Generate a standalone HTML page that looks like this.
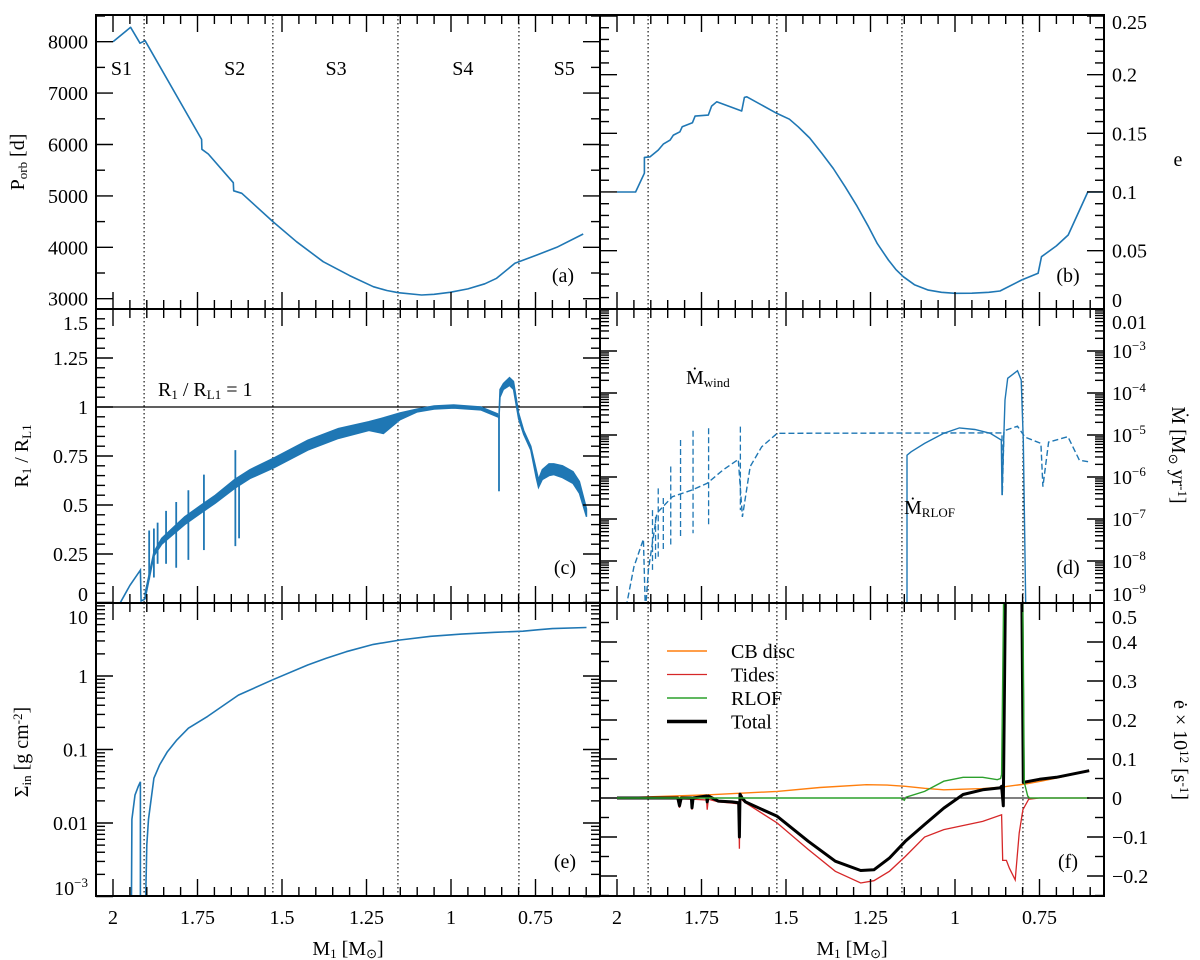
<!DOCTYPE html>
<html><head><meta charset="utf-8"><title>Binary evolution panels</title>
<style>
html,body{margin:0;padding:0;background:#fff;}
svg{display:block;font-family:"Liberation Serif",serif;}
</style></head>
<body>
<svg id="fig" width="1200" height="960" viewBox="0 0 1200 960" xmlns="http://www.w3.org/2000/svg"></svg>
<script>
// ---------- data ----------
const stageBounds = [1.908, 1.527, 1.157, 0.799];
const stageNames = ["S1","S2","S3","S4","S5"];
const stageLabelMass = [1.975, 1.64, 1.34, 0.965, 0.665];

// (a) orbital period
const massA = [2.0,1.948,1.92,1.905,1.738,1.737,1.718,1.644,1.643,1.619,1.527,1.457,1.378,1.30,1.23,1.19,1.156,1.087,1.05,1.003,0.95,0.90,0.865,0.811,0.746,0.687,0.609];
const periodA = [8000,8280,7970,8020,6100,5906,5815,5257,5100,5050,4500,4109,3720,3450,3233,3160,3117,3072,3085,3124,3190,3290,3397,3689,3850,4000,4259];

// (b) eccentricity
const massB = [2.0,1.945,1.919,1.919,1.902,1.878,1.863,1.843,1.833,1.814,1.807,1.777,1.769,1.73,1.72,1.705,1.631,1.623,1.616,1.527,1.49,1.464,1.43,1.394,1.36,1.325,1.29,1.256,1.23,1.197,1.175,1.153,1.12,1.079,1.04,1.0,0.95,0.90,0.867,0.803,0.754,0.744,0.70,0.665,0.607,0.56];
const eccB = [0.1,0.1,0.116,0.1295,0.130,0.1357,0.1408,0.1442,0.1485,0.1513,0.1556,0.159,0.1647,0.1655,0.1732,0.1769,0.169,0.1806,0.1811,0.167,0.162,0.1556,0.146,0.133,0.120,0.1045,0.088,0.0704,0.056,0.042,0.034,0.0278,0.021,0.0164,0.0145,0.0136,0.0137,0.0145,0.0156,0.025,0.0307,0.0448,0.054,0.0633,0.1,0.1];

// (c) R1/RL1
const massC0 = [1.979,1.95,1.919,1.917,1.905];
const ratioC0 = [0.0,0.09,0.168,0.01,0.02];
const massC1 = [1.905,1.879,1.856,1.822,1.788,1.743,1.697,1.64,1.595,1.524,1.424,1.333,1.243,1.20,1.151,1.10,1.05,0.992,0.912,0.862];
const ratioC1Upper = [0.05,0.26,0.33,0.385,0.44,0.495,0.55,0.63,0.68,0.74,0.83,0.89,0.925,0.945,0.97,0.99,1.005,1.01,1.0,0.965];
const ratioC1Lower = [0.02,0.24,0.30,0.35,0.40,0.455,0.51,0.585,0.635,0.69,0.78,0.84,0.88,0.865,0.935,0.975,0.99,0.995,0.985,0.95];
const massC2 = [0.858,0.855,0.845,0.827,0.815,0.80,0.785,0.764,0.748,0.741,0.73,0.71,0.696,0.67,0.639,0.62,0.599];
const ratioC2Upper = [0.96,1.09,1.12,1.15,1.13,0.97,0.88,0.80,0.68,0.63,0.68,0.71,0.71,0.70,0.67,0.62,0.48];
const ratioC2Lower = [0.94,1.05,1.09,1.11,1.09,0.94,0.86,0.78,0.64,0.59,0.63,0.65,0.655,0.64,0.61,0.56,0.44];
const spikeMassC = [1.893,1.879,1.868,1.843,1.813,1.777,1.731,1.638,1.627,0.858];
const spikeTopC = [0.37,0.38,0.41,0.47,0.515,0.575,0.655,0.78,0.62,0.96];
const spikeBottomC = [0.12,0.13,0.2,0.2,0.18,0.22,0.27,0.29,0.33,0.57];

// (d) mass-loss rates, log10 [Msun/yr]
const massWind = [1.973,1.95,1.922,1.916,1.907,1.882,1.836,1.778,1.733,1.686,1.641,1.629,1.606,1.572,1.526,0.861,0.860,0.855,0.815,0.793,0.746,0.74,0.723,0.666,0.632,0.603];
const windLog10 = [-9.1,-8.14,-7.48,-9.2,-8.21,-6.86,-6.47,-6.31,-6.15,-5.83,-5.58,-6.95,-5.75,-5.28,-4.96,-4.95,-6.43,-4.9,-4.79,-5.05,-5.2,-6.23,-5.17,-5.04,-5.6,-5.64];
const spikeMassWind = [1.895,1.886,1.878,1.863,1.841,1.812,1.775,1.729,1.635];
const spikeTopWind = [-6.79,-6.95,-6.27,-6.5,-5.75,-5.12,-4.9,-4.84,-4.8];
const spikeBottomWind = [-8.21,-7.98,-7.9,-7.74,-7.63,-7.46,-7.34,-7.14,-6.79];
const massRlof = [1.142,1.142,1.130,1.090,1.033,0.987,0.941,0.896,0.863,0.861,0.856,0.852,0.844,0.815,0.804,0.798,0.790];
const rlofLog10 = [-9.5,-5.48,-5.40,-5.2,-4.96,-4.83,-4.87,-4.96,-5.12,-6.43,-5.12,-4.17,-3.65,-3.47,-3.69,-5.12,-9.5];

// (e) Sigma_in, log10 [g cm^-2]
const massE0 = [1.9455,1.944,1.935,1.925,1.919,1.919];
const sigmaLog0 = [-3.2,-1.95,-1.62,-1.50,-1.44,-3.2];
const massE1 = [1.904,1.9,1.895,1.888,1.879,1.862,1.839,1.811,1.777,1.72,1.629,1.527,1.424,1.37,1.31,1.23,1.151,1.06,0.969,0.87,0.787,0.74,0.70,0.599];
const sigmaLog1 = [-3.2,-2.3,-1.95,-1.7,-1.39,-1.21,-1.03,-0.87,-0.71,-0.55,-0.26,-0.05,0.15,0.24,0.33,0.43,0.49,0.54,0.57,0.595,0.61,0.63,0.645,0.66];

// (f) de/dt x 1e12
const massCB = [2.0,1.721,1.526,1.40,1.262,1.20,1.147,1.09,1.033,0.918,0.861,0.792,0.746,0.689,0.603];
const edotCB = [0,0.0085,0.017,0.027,0.034,0.033,0.03,0.025,0.021,0.024,0.028,0.036,0.043,0.053,0.07];
const massTides = [2.0,1.82,1.815,1.81,1.78,1.778,1.775,1.735,1.733,1.73,1.70,1.66,1.64,1.638,1.636,1.63,1.62,1.526,1.434,1.354,1.279,1.24,1.194,1.147,1.09,1.033,0.918,0.862,0.859,0.848,0.839,0.822,0.81,0.799,0.782,0.75,0.603];
const edotTides = [0,-0.002,-0.025,-0.002,-0.003,-0.03,-0.003,-0.005,-0.03,-0.003,-0.01,-0.013,-0.015,-0.13,0.01,-0.005,-0.012,-0.064,-0.132,-0.188,-0.218,-0.212,-0.188,-0.15,-0.10,-0.081,-0.06,-0.043,-0.16,-0.16,-0.18,-0.21,-0.09,-0.03,-0.003,0,0];
const massRL = [2.0,1.16,1.150,1.145,1.09,1.033,0.976,0.918,0.875,0.865,0.862,0.855,0.80,0.795,0.785,0.78,0.603];
const edotRL = [0,0,-0.006,0.002,0.017,0.043,0.053,0.053,0.047,0.05,0.06,0.6,0.6,0.04,0.005,0,0];
const massTot = [2.0,1.82,1.815,1.81,1.78,1.778,1.775,1.735,1.733,1.73,1.70,1.66,1.64,1.638,1.636,1.63,1.62,1.526,1.434,1.354,1.279,1.24,1.194,1.147,1.09,1.033,0.976,0.918,0.867,0.862,0.857,0.850,0.803,0.798,0.75,0.70,0.603];
const edotTot = [0,0,-0.02,0,0,-0.025,0,0.005,-0.01,0.005,-0.008,-0.01,-0.012,-0.1,0.01,0,-0.01,-0.047,-0.111,-0.162,-0.186,-0.184,-0.154,-0.111,-0.068,-0.026,0.009,0.021,0.026,0.03,-0.02,0.6,0.6,0.04,0.048,0.053,0.07];

// ---------- helpers ----------
const NS = "http://www.w3.org/2000/svg";
const svg = document.getElementById("fig");
const BLUE = "#1f77b4";
function mk(tag, attrs, parent, name) {
  const n = document.createElementNS(NS, tag);
  for (const k in attrs) n.setAttribute(k, attrs[k]);
  
  
  (parent || svg).appendChild(n);
  return n;
}
const panels = {
  a:{x0:96,x1:600,y0:15,y1:309,col:0},
  b:{x0:600,x1:1104,y0:15,y1:309,col:1},
  c:{x0:96,x1:600,y0:309,y1:603,col:0},
  d:{x0:600,x1:1104,y0:309,y1:603,col:1},
  e:{x0:96,x1:600,y0:603,y1:896,col:0},
  f:{x0:600,x1:1104,y0:603,y1:896,col:1}
};
function xm(M, col) { return (col ? 617 : 113) + (2 - M) * 338; }
const yScale = {
  a: v => 298.7 - (v - 3000) * 0.0514,
  b: v => 309.3 - v * 1173.2,
  c: v => 603 - v * 196,
  d: v => 309 + (-2 - v) * 42,
  e: v => 676 - v * 73.5,
  f: v => 798 - v * 390
};
function pathD(ms, vs, col, ys) {
  return ms.map((m, i) => (i ? "L" : "M") + xm(m, col).toFixed(1) + " " + ys(vs[i]).toFixed(1)).join(" ");
}
const defs = mk("defs", {}, svg, "defs");
for (const k in panels) {
  const p = panels[k];
  const cp = mk("clipPath", {id: "clip-" + k}, defs, "clip-" + k);
  mk("rect", {x: p.x0, y: p.y0, width: p.x1 - p.x0, height: p.y1 - p.y0}, cp, "clip-rect-" + k);
}
function gPanel(k) { return mk("g", {"clip-path": "url(#clip-" + k + ")"}, svg, "panel-" + k + "-plot-area"); }

// ---------- stage lines ----------
for (const k in panels) {
  const p = panels[k];
  const g = gPanel(k);
  stageBounds.forEach((m, i) => {
    mk("line", {x1: xm(m, p.col), x2: xm(m, p.col), y1: p.y0, y2: p.y1, stroke: "#000", "stroke-width": 1.1, "stroke-dasharray": "1.5,2.5"}, g, "stage-boundary-" + (i + 1));
  });
}

// ---------- series ----------
let g;
g = gPanel("a");
mk("path", {d: pathD(massA, periodA, 0, yScale.a), fill: "none", stroke: BLUE, "stroke-width": 1.6, "stroke-linejoin": "round"}, g, "period-line");
g = gPanel("b");
mk("path", {d: pathD(massB, eccB, 1, yScale.b), fill: "none", stroke: BLUE, "stroke-width": 1.6, "stroke-linejoin": "round"}, g, "eccentricity-line");

g = gPanel("c");
mk("line", {x1: 96, x2: 600, y1: yScale.c(1), y2: yScale.c(1), stroke: "#000", "stroke-width": 1.3}, g, "roche-limit-line");
mk("path", {d: pathD(massC0, ratioC0, 0, yScale.c), fill: "none", stroke: BLUE, "stroke-width": 1.6}, g, "radius-ratio-early");
function band(ms, up, lo, name) {
  const d = pathD(ms, up, 0, yScale.c) + " " + ms.slice().reverse().map((m, i) => "L" + xm(m, 0).toFixed(1) + " " + yScale.c(lo[lo.length - 1 - i]).toFixed(1)).join(" ") + " Z";
  mk("path", {d: d, fill: BLUE, stroke: BLUE, "stroke-width": 1.4}, g, name);
}
band(massC1, ratioC1Upper, ratioC1Lower, "radius-ratio-band-1");
band(massC2, ratioC2Upper, ratioC2Lower, "radius-ratio-band-2");
spikeMassC.forEach((m, i) => {
  mk("line", {x1: xm(m, 0), x2: xm(m, 0), y1: yScale.c(spikeTopC[i]), y2: yScale.c(spikeBottomC[i]), stroke: BLUE, "stroke-width": 1.8}, g, "radius-ratio-spike");
});

g = gPanel("d");
mk("path", {d: pathD(massWind, windLog10, 1, yScale.d), fill: "none", stroke: BLUE, "stroke-width": 1.4, "stroke-dasharray": "6,3"}, g, "wind-mass-loss-line");
spikeMassWind.forEach((m, i) => {
  mk("line", {x1: xm(m, 1), x2: xm(m, 1), y1: yScale.d(spikeTopWind[i]), y2: yScale.d(spikeBottomWind[i]), stroke: BLUE, "stroke-width": 1.3, "stroke-dasharray": "6,3"}, g, "wind-spike");
});
mk("path", {d: pathD(massRlof, rlofLog10, 1, yScale.d), fill: "none", stroke: BLUE, "stroke-width": 1.4}, g, "rlof-mass-loss-line");

g = gPanel("e");
mk("path", {d: pathD(massE0, sigmaLog0, 0, yScale.e), fill: "none", stroke: BLUE, "stroke-width": 1.6}, g, "sigma-line-early");
mk("path", {d: pathD(massE1, sigmaLog1, 0, yScale.e), fill: "none", stroke: BLUE, "stroke-width": 1.6, "stroke-linejoin": "round"}, g, "sigma-line");

g = gPanel("f");
mk("line", {x1: 600, x2: 1104, y1: yScale.f(0), y2: yScale.f(0), stroke: "#000", "stroke-width": 1}, g, "zero-line");
mk("path", {d: pathD(massCB, edotCB, 1, yScale.f), fill: "none", stroke: "#ff7f0e", "stroke-width": 1.4}, g, "cb-disc-line");
mk("path", {d: pathD(massTides, edotTides, 1, yScale.f), fill: "none", stroke: "#d62728", "stroke-width": 1.3}, g, "tides-line");
mk("path", {d: pathD(massTot, edotTot, 1, yScale.f), fill: "none", stroke: "#000", "stroke-width": 3, "stroke-linejoin": "round"}, g, "total-line");
mk("path", {d: pathD(massRL, edotRL, 1, yScale.f), fill: "none", stroke: "#2ca02c", "stroke-width": 1.4}, g, "rlof-edot-line");

// ---------- axes, ticks ----------
function tickLine(x1, y1, x2, y2, w, name) { mk("line", {x1, y1, x2, y2, stroke: "#000", "stroke-width": w}, svg, name); }
function label(x, y, txt, anchor, sup, name) {
  const t = mk("text", {x: x, y: y, "font-size": 20, "text-anchor": anchor, fill: "#000"}, svg, name);
  t.appendChild(document.createTextNode(txt));
  if (sup) {
    const s = mk("tspan", {dy: -8, "font-size": 13}, t, name + "-exponent");
    s.textContent = sup;
  }
  return t;
}
const yTicks = {
  a: {vals: []}, b: {vals: []}, c: {vals: []},
  d: {vals: []}, e: {vals: []}, f: {vals: []}
};
for (let v = 2500; v <= 8500; v += 500) yTicks.a.vals.push([v, v % 1000 === 0, v % 1000 === 0 ? String(v) : null]);
for (let i = 0; i <= 25; i++) { const v = i / 100; yTicks.b.vals.push([v, i % 5 === 0, i % 5 === 0 ? String(+v.toFixed(2)) : null]); }
for (let i = 0; i <= 30; i++) { const v = i * 0.05; yTicks.c.vals.push([v, i % 5 === 0, i % 5 === 0 ? String(+v.toFixed(2)) : null]); }
for (let d = -9; d <= -2; d++) {
  yTicks.d.vals.push([d, true, d === -2 ? "0.01" : ["10", "\u2212" + (-d)]]);
  if (d < -2) for (let k = 2; k <= 9; k++) yTicks.d.vals.push([d + Math.log10(k), false, null]);
}
for (let d = -3; d <= 1; d++) {
  yTicks.e.vals.push([d, true, d === -3 ? ["10", "\u22123"] : String(+(Math.pow(10, d)).toFixed(3))]);
  if (d < 1) for (let k = 2; k <= 9; k++) yTicks.e.vals.push([d + Math.log10(k), false, null]);
}
for (let i = -5; i <= 10; i++) { const v = i * 0.05; yTicks.f.vals.push([v, i % 2 === 0, i % 2 === 0 ? (v < 0 ? "\u2212" : "") + String(+Math.abs(v).toFixed(2)) : null]); }

const labelClamp = {a:[30,300], b:[22,300], c:[323,594], d:[322,594], e:[617,888], f:[617,888]};
for (const k in panels) {
  const p = panels[k], ys = yScale[k];
  yTicks[k].vals.forEach(([v, major, lab]) => {
    const y = ys(v);
    if (y < p.y0 - 0.5 || y > p.y1 + 0.5) return;
    const L = major ? 17 : 9;
    tickLine(p.x0, y, p.x0 + L, y, 1.4, "y-tick-" + k);
    tickLine(p.x1, y, p.x1 - L, y, 1.4, "y-tick-" + k);
    if (lab) {
      const ly = Math.min(Math.max(y, labelClamp[k][0]), labelClamp[k][1]) + 7;
      const sup = Array.isArray(lab) ? lab[1] : null;
      const txt = Array.isArray(lab) ? lab[0] : lab;
      if (p.col === 0) label(p.x0 - 8, ly, txt, "end", sup, "y-tick-label-" + k);
      else label(p.x1 + 8, ly, txt, "start", sup, "y-tick-label-" + k);
    }
  });
  for (let i = -1; i <= 29; i++) {
    const m = 2 - i * 0.05;
    const x = xm(m, p.col);
    if (x < p.x0 || x > p.x1) continue;
    const major = i >= 0 && i % 5 === 0;
    const L = major ? 17 : 9;
    tickLine(x, p.y0, x, p.y0 + L, 1.4, "x-tick-" + k);
    tickLine(x, p.y1, x, p.y1 - L, 1.4, "x-tick-" + k);
    if (major && (k === "e" || k === "f")) label(x, 924, String(+m.toFixed(2)), "middle", null, "x-tick-label-" + k);
  }
  mk("rect", {x: p.x0, y: p.y0, width: p.x1 - p.x0, height: p.y1 - p.y0, fill: "none", stroke: "#000", "stroke-width": 2}, svg, "panel-" + k + "-frame");
}

// ---------- text annotations ----------
stageNames.forEach((s, i) => { label(xm(stageLabelMass[i], 0), 75, s, "middle", null, "stage-label-" + s.toLowerCase()); });
[["a",563,282],["b",1068,282],["c",565,574],["d",1068,574],["e",565,868],["f",1068,868]].forEach(([k, x, y]) => {
  label(x, y, "(" + k + ")", "middle", null, "panel-letter-" + k);
});

function richText(x, y, parts, attrs, name) {
  const t = mk("text", Object.assign({x: x, y: y, "font-size": 20, fill: "#000"}, attrs || {}), svg, name);
  parts.forEach(([s, kind]) => {
    const a = {};
    if (kind === "sub") { a["baseline-shift"] = "-25%"; a["font-size"] = 13; }
    if (kind === "sup") { a["baseline-shift"] = "45%"; a["font-size"] = 13; }
    const ts = mk("tspan", a, t, name + "-part");
    ts.textContent = s;
  });
  return t;
}
richText(348, 955, [["M",""],["1","sub"],[" [M",""],["\u2299","sub"],["]",""]], {"text-anchor": "middle"}, "x-axis-title-left");
richText(852, 955, [["M",""],["1","sub"],[" [M",""],["\u2299","sub"],["]",""]], {"text-anchor": "middle"}, "x-axis-title-right");
richText(0, 0, [["P",""],["orb","sub"],[" [d]",""]], {"text-anchor": "middle", transform: "translate(24,162) rotate(-90)"}, "y-axis-title-period");
richText(0, 0, [["R",""],["1","sub"],[" / R",""],["L1","sub"]], {"text-anchor": "middle", transform: "translate(28,456) rotate(-90)"}, "y-axis-title-radius-ratio");
richText(0, 0, [["\u03A3",""],["in","sub"],[" [g cm",""],["-2","sup"],["]",""]], {"text-anchor": "middle", transform: "translate(28,752) rotate(-90)"}, "y-axis-title-sigma");
richText(1178, 166, [["e",""]], {"text-anchor": "middle"}, "y-axis-title-eccentricity");
richText(0, 0, [["\u1E40 [M",""],["\u2299","sub"],[" yr",""],["-1","sup"],["]",""]], {"text-anchor": "middle", transform: "translate(1172,455) rotate(90)"}, "y-axis-title-mdot");
richText(0, 0, [["\u0117 \u00D7 10",""],["12","sup"],[" [s",""],["-1","sup"],["]",""]], {"text-anchor": "middle", transform: "translate(1174,750) rotate(90)"}, "y-axis-title-edot");
richText(158, 396, [["R",""],["1","sub"],[" / R",""],["L1","sub"],[" = 1",""]], {}, "roche-limit-label");
richText(686, 384, [["\u1E40",""],["wind","sub"]], {}, "wind-label");
richText(904, 514, [["\u1E40",""],["RLOF","sub"]], {}, "rlof-label");

// legend
const legendNames = ["CB disc","Tides","RLOF","Total"];
const legendColors = ["#ff7f0e","#d62728","#2ca02c","#000"];
const legendWidths = [1.4,1.3,1.4,3.5];
legendNames.forEach((n, i) => {
  const y = 651 + i * 23.5;
  mk("line", {x1: 667, x2: 707, y1: y, y2: y, stroke: legendColors[i], "stroke-width": legendWidths[i]}, svg, "legend-swatch-" + n.toLowerCase().replace(" ", "-"));
  label(731, y + 7, n, "start", null, "legend-entry-" + n.toLowerCase().replace(" ", "-"));
});
</script>
</body></html>
